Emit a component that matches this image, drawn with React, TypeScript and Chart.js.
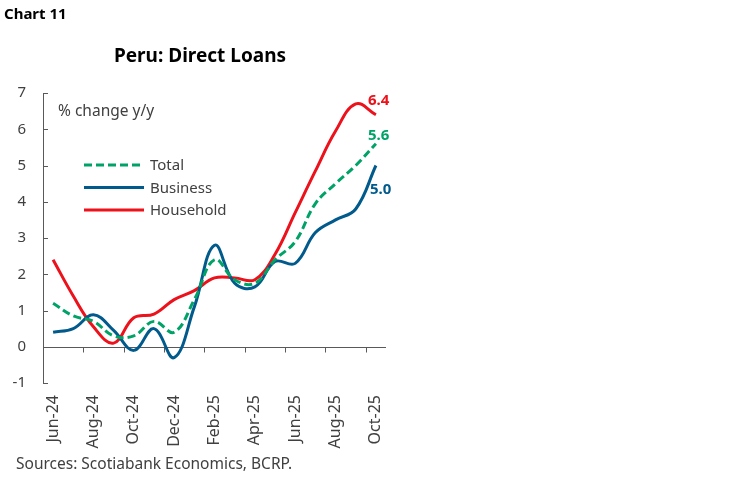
import React, { useEffect, useRef } from "react";
import { Chart, registerables } from "chart.js";

Chart.register(...registerables);

const months = [
  "Jun-24", "Jul-24", "Aug-24", "Sep-24", "Oct-24", "Nov-24", "Dec-24",
  "Jan-25", "Feb-25", "Mar-25", "Apr-25", "May-25", "Jun-25", "Jul-25",
  "Aug-25", "Sep-25", "Oct-25",
];
const total = [1.2, 0.85, 0.7, 0.3, 0.3, 0.7, 0.4, 1.3, 2.4, 1.85, 1.75, 2.4, 2.9, 3.95, 4.5, 5.0, 5.6];
const business = [0.4, 0.5, 0.88, 0.45, -0.1, 0.5, -0.3, 1.1, 2.8, 1.75, 1.65, 2.35, 2.3, 3.15, 3.5, 3.8, 5.0];
const household = [2.4, 1.4, 0.55, 0.1, 0.8, 0.9, 1.3, 1.55, 1.9, 1.9, 1.85, 2.55, 3.7, 4.85, 5.95, 6.7, 6.4];
const yTicks = [-1, 0, 1, 2, 3, 4, 5, 6, 7];

const RED = "#EC111A";
const BLUE = "#005A8C";
const GREEN = "#00A367";
const TEXT = "#404040";
const AXIS = "#595959";
const FONT = "'Noto Sans', sans-serif";

// label offsets for end-of-line values: [dx, dy]
const endOffsets = [
  [-8, -8],
  [-6, 24],
  [-8, -14],
];

const overlay = {
  id: "overlay",
  beforeDatasetsDraw(chart: any) {
    const { ctx, chartArea } = chart;
    const x = chart.scales.x;
    const y = chart.scales.y;
    ctx.save();
    ctx.strokeStyle = AXIS;
    ctx.lineWidth = 1;
    // y tick marks (inside)
    yTicks.forEach((v) => {
      const py = Math.round(y.getPixelForValue(v)) + 0.5;
      ctx.beginPath();
      ctx.moveTo(chartArea.left, py);
      ctx.lineTo(chartArea.left + 5, py);
      ctx.stroke();
    });
    // zero line
    const y0 = Math.round(y.getPixelForValue(0)) + 0.5;
    ctx.beginPath();
    ctx.moveTo(chartArea.left, y0);
    ctx.lineTo(chartArea.right, y0);
    ctx.stroke();
    // category boundary ticks every 2 months
    const w = (chartArea.right - chartArea.left) / months.length;
    for (let i = 0; i < months.length; i += 2) {
      const px = Math.round(x.getPixelForValue(i) - w / 2) + 0.5;
      ctx.beginPath();
      ctx.moveTo(px, y0);
      ctx.lineTo(px, y0 + 5);
      ctx.stroke();
    }
    ctx.restore();
  },
  afterDraw(chart: any) {
    const { ctx } = chart;
    ctx.save();
    ctx.textBaseline = "middle";
    ctx.textAlign = "left";
    ctx.fillStyle = "#000";
    ctx.font = `bold 15px ${FONT}`;
    ctx.fillText("Chart 11", 4, 15);
    ctx.font = `bold 19px ${FONT}`;
    ctx.textAlign = "center";
    ctx.fillText("Peru: Direct Loans", 200, 57);
    ctx.textAlign = "left";
    ctx.fillStyle = TEXT;
    ctx.font = `15.5px ${FONT}`;
    ctx.fillText("% change y/y", 58, 112);
    ctx.fillText("Sources: Scotiabank Economics, BCRP.", 16, 465);

    // legend
    const rows = [165, 187.5, 210];
    chart.data.datasets.forEach((ds: any, i: number) => {
      ctx.save();
      ctx.strokeStyle = ds.borderColor;
      ctx.lineWidth = 3;
      ctx.setLineDash(ds.borderDash || []);
      ctx.beginPath();
      ctx.moveTo(84, rows[i]);
      ctx.lineTo(144, rows[i]);
      ctx.stroke();
      ctx.restore();
      ctx.fillStyle = TEXT;
      ctx.font = `15px ${FONT}`;
      ctx.fillText(ds.label, 150, rows[i] + 1);
    });

    // end labels
    chart.data.datasets.forEach((ds: any, i: number) => {
      const meta = chart.getDatasetMeta(i);
      const pt = meta.data[meta.data.length - 1];
      const v = ds.data[ds.data.length - 1];
      ctx.fillStyle = ds.borderColor;
      ctx.font = `bold 15px ${FONT}`;
      ctx.fillText(v.toFixed(1), pt.x + endOffsets[i][0], pt.y + endOffsets[i][1]);
    });
    ctx.restore();
  },
};

export default function App() {
  const ref = useRef<HTMLCanvasElement>(null);
  useEffect(() => {
    if (!ref.current) return;
    const chart = new Chart(ref.current, {
      type: "line",
      data: {
        labels: months,
        datasets: [
          {
            label: "Total",
            data: total,
            borderColor: GREEN,
            borderWidth: 3,
            borderDash: [8, 4],
            pointRadius: 0,
            tension: 0.4,
            fill: false,
          },
          {
            label: "Business",
            data: business,
            borderColor: BLUE,
            borderWidth: 3,
            pointRadius: 0,
            tension: 0.4,
            fill: false,
          },
          {
            label: "Household",
            data: household,
            borderColor: RED,
            borderWidth: 3,
            pointRadius: 0,
            tension: 0.4,
            fill: false,
          },
        ],
      },
      options: {
        responsive: false,
        animation: false,
        layout: { padding: { top: 93, right: 362, bottom: 0, left: 0 } },
        plugins: {
          legend: { display: false },
          title: { display: false },
          tooltip: { enabled: false },
        },
        scales: {
          x: {
            offset: true,
            grid: { display: false, drawTicks: false, offset: true },
            border: { display: false },
            ticks: {
              autoSkip: false,
              maxRotation: 90,
              minRotation: 90,
              padding: 12,
              color: TEXT,
              font: { family: FONT, size: 16 },
              callback: (_v: any, i: number) => (i % 2 === 0 ? months[i] : ""),
            },
            afterFit: (s: any) => {
              s.height = 100;
            },
          },
          y: {
            min: -1,
            max: 7,
            grid: { display: false, drawTicks: false },
            border: { display: true, color: AXIS, width: 1 },
            ticks: {
              stepSize: 1,
              padding: 17,
              color: TEXT,
              font: { family: FONT, size: 15 },
            },
            afterFit: (s: any) => {
              s.width = 43;
            },
          },
        },
      },
      plugins: [overlay],
    });
    return () => chart.destroy();
  }, []);
  return (
    <div style={{ position: "fixed", left: 0, top: 0, width: 748, height: 483, background: "#fff" }}>
      <canvas ref={ref} width={748} height={483} style={{ width: 748, height: 483 }} />
    </div>
  );
}
